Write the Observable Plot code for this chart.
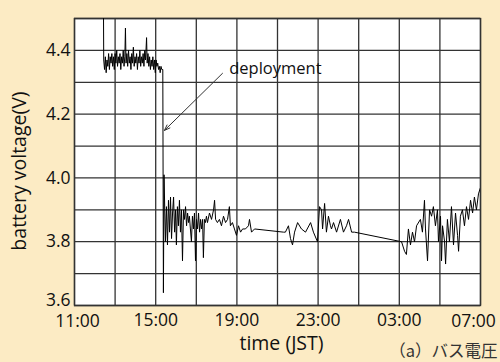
<!DOCTYPE html>
<html>
<head>
<meta charset="utf-8">
<script src="https://cdn.jsdelivr.net/npm/d3@7"></script>
<script src="https://cdn.jsdelivr.net/npm/@observablehq/plot@0.6"></script>
<style>
  html, body { margin: 0; padding: 0; background: #fcebc4; }
  #chart svg { display: block; }
</style>
</head>
<body>
<div id="chart"></div>
<script>
// time in hours since 00:00 of the first day (values > 24 are next day)
const times = [
  12.43, 12.44, 12.48, 12.52, 12.56, 12.60, 12.64, 12.68, 12.72, 12.76, 12.80, 12.84, 12.88, 12.92, 12.96,
  13.00, 13.04, 13.08, 13.12, 13.16, 13.20, 13.24, 13.28, 13.32, 13.36, 13.40, 13.44, 13.48, 13.51, 13.54,
  13.58, 13.62, 13.66, 13.70, 13.74, 13.78, 13.82, 13.86, 13.90, 13.94, 13.98, 14.02, 14.06, 14.10, 14.14,
  14.18, 14.22, 14.26, 14.30, 14.34, 14.38, 14.42, 14.46, 14.50, 14.55, 14.58, 14.62, 14.66, 14.70, 14.74,
  14.78, 14.82, 14.86, 14.90, 14.94, 14.98, 15.02, 15.06, 15.10, 15.14, 15.18, 15.22, 15.26, 15.30, 15.35,
  15.38, 15.41,
  15.48, 15.53, 15.58, 15.63, 15.68, 15.73, 15.78, 15.83, 15.88, 15.93, 15.98, 16.02, 16.07, 16.12, 16.17,
  16.22, 16.27, 16.32, 16.37, 16.42, 16.47, 16.52, 16.57, 16.62, 16.66, 16.71, 16.76, 16.81, 16.86, 16.91,
  16.96, 17.01, 17.06, 17.11, 17.16, 17.21, 17.26, 17.31, 17.35, 17.40, 17.45, 17.50, 17.55, 17.65, 17.75,
  17.85, 17.90, 17.95, 18.04, 18.14, 18.24, 18.34, 18.44, 18.54, 18.63, 18.68, 18.78, 18.88, 18.98, 19.08,
  19.18, 19.28, 19.42, 19.57, 19.62, 19.72, 19.87,
  21.30, 21.39, 21.54, 21.64, 21.74, 21.84, 21.99, 22.18, 22.38, 22.63, 22.77, 22.97, 23.07, 23.17, 23.22,
  23.32, 23.41, 23.51, 23.61, 23.66, 23.76, 23.91, 24.10, 24.25, 24.40, 24.50, 24.65, 24.79,
  27.11, 27.26, 27.35, 27.45, 27.55, 27.65, 27.75, 27.85, 28.04, 28.14, 28.24, 28.29, 28.39, 28.49, 28.59,
  28.68, 28.78, 28.88, 28.93, 29.03, 29.08, 29.13, 29.23, 29.28, 29.37, 29.47, 29.57, 29.67, 29.77, 29.87,
  29.92, 30.01, 30.11, 30.21, 30.31, 30.41, 30.51, 30.61, 30.70, 30.80, 30.90, 31.00
];
const volts = [
  4.50, 4.37, 4.34, 4.38, 4.33, 4.37, 4.35, 4.39, 4.34, 4.38, 4.36, 4.39, 4.35, 4.38, 4.34,
  4.39, 4.36, 4.40, 4.35, 4.38, 4.36, 4.39, 4.34, 4.38, 4.36, 4.40, 4.35, 4.38, 4.47, 4.36,
  4.39, 4.35, 4.40, 4.36, 4.38, 4.34, 4.39, 4.36, 4.41, 4.35, 4.38, 4.36, 4.39, 4.34, 4.38,
  4.36, 4.40, 4.35, 4.38, 4.36, 4.39, 4.35, 4.40, 4.37, 4.44, 4.36, 4.39, 4.35, 4.38, 4.34,
  4.37, 4.35, 4.38, 4.34, 4.37, 4.33, 4.37, 4.35, 4.36, 4.34, 4.35, 4.33, 4.35, 4.34, 4.34,
  3.64, 4.01,
  3.80, 3.91, 3.79, 3.93, 3.83, 3.94, 3.81, 3.89, 3.94, 3.83, 3.90, 3.79, 3.91, 3.85, 3.93,
  3.83, 3.90, 3.74, 3.90, 3.87, 3.91, 3.85, 3.89, 3.86, 3.88, 3.84, 3.80, 3.88, 3.84, 3.89,
  3.74, 3.87, 3.84, 3.89, 3.83, 3.87, 3.84, 3.87, 3.75, 3.87, 3.86, 3.88, 3.86, 3.89, 3.87,
  3.90, 3.93, 3.87, 3.86, 3.87, 3.85, 3.88, 3.86, 3.87, 3.91, 3.85, 3.86, 3.84, 3.82, 3.85,
  3.83, 3.84, 3.84, 3.85, 3.87, 3.83, 3.84,
  3.83, 3.83, 3.85, 3.81, 3.79, 3.83, 3.86, 3.84, 3.83, 3.86, 3.83, 3.80, 3.91, 3.90, 3.84,
  3.92, 3.83, 3.88, 3.85, 3.84, 3.86, 3.83, 3.87, 3.83, 3.85, 3.87, 3.83, 3.83,
  3.80, 3.77, 3.76, 3.84, 3.79, 3.83, 3.80, 3.85, 3.87, 3.83, 3.93, 3.84, 3.74, 3.90, 3.88,
  3.91, 3.85, 3.90, 3.80, 3.88, 3.74, 3.85, 3.80, 3.73, 3.87, 3.80, 3.91, 3.79, 3.89, 3.82,
  3.77, 3.88, 3.90, 3.85, 3.91, 3.87, 3.93, 3.89, 3.94, 3.90, 3.95, 3.97
];

const xTicks = [11, 15, 19, 23, 27, 31];
const xTickLabels = ["11:00", "15:00", "19:00", "23:00", "03:00", "07:00"];
const yTicks = [3.6, 3.8, 4.0, 4.2, 4.4];
const xGrid = [11, 13, 15, 17, 19, 21, 23, 25, 27, 29, 31];
const yGrid = [3.6, 3.7, 3.8, 3.9, 4.0, 4.1, 4.2, 4.3, 4.4, 4.5];

const annotationText = ["deployment"];
const annotationTextPos = [{x: 18.62, y: 4.343}];
const annotationArrow = [{x1: 18.29, y1: 4.328, x2: 15.43, y2: 4.149}];

const yLabel = "battery voltage(V)";
const xLabel = "time (JST)";
const caption = "（a）バス電圧";

const data = times.map((t, i) => ({t, v: volts[i]}));
const labelMap = new Map(xTicks.map((t, i) => [t, xTickLabels[i]]));
const font = "'Open Sans', 'Noto Sans', sans-serif";
const tickFs = 17.5;

const first = xTicks[0], last = xTicks[xTicks.length - 1];
const midX = xTicks.slice(1, -1);
const yMin = yTicks[0];
const yRest = yTicks.slice(1);

const chart = Plot.plot({
  width: 500,
  height: 362,
  marginLeft: 74,
  marginRight: 20,
  marginTop: 18,
  marginBottom: 57,
  style: {background: "transparent", fontFamily: font, fontSize: "17px", color: "#111", overflow: "visible"},
  x: {domain: [11, 31], label: null},
  y: {domain: [3.6, 4.5], label: null},
  marks: [
    Plot.frame({fill: "white", stroke: null}),
    Plot.ruleX(xGrid, {stroke: "#333", strokeWidth: 1.3}),
    Plot.ruleY(yGrid, {stroke: "#333", strokeWidth: 1.3}),
    Plot.frame({stroke: "#333", strokeWidth: 1.4}),
    Plot.line(data, {x: "t", y: "v", stroke: "#000", strokeWidth: 1, clip: true}),
    Plot.arrow(annotationArrow, {x1: "x1", y1: "y1", x2: "x2", y2: "y2", stroke: "#333", strokeWidth: 1, headLength: 9, headAngle: 40}),
    Plot.text(annotationText, {x: annotationTextPos[0].x, y: annotationTextPos[0].y, text: d => d, textAnchor: "start", fontSize: 16.5, fill: "#111"}),
    Plot.text([yLabel], {frameAnchor: "left", dx: -55, dy: 9, rotate: -90, textAnchor: "middle", text: d => d, fontSize: 19.5, fill: "#111"}),
    Plot.text([xLabel], {frameAnchor: "bottom", dx: 4, dy: 38, textAnchor: "middle", lineAnchor: "middle", text: d => d, fontSize: 19.5, fill: "#111"}),
    Plot.text([caption], {frameAnchor: "bottom-right", dx: 17, dy: 51, textAnchor: "end", lineAnchor: "bottom", text: d => d, fontSize: 16.5, fill: "#333", fontFamily: "'Noto Sans CJK JP', sans-serif"}),
    Plot.axisX({ticks: midX, tickFormat: d => labelMap.get(d), tickSize: 0, tickPadding: 8, label: null, fontSize: tickFs}),
    Plot.text([first], {x: d => d, frameAnchor: "bottom", dx: 3, dy: 16, lineAnchor: "middle", text: d => labelMap.get(d), fontSize: tickFs, fill: "#111"}),
    Plot.text([last], {x: d => d, frameAnchor: "bottom", dx: -7, dy: 16, lineAnchor: "middle", text: d => labelMap.get(d), fontSize: tickFs, fill: "#111"}),
    Plot.axisY({ticks: yRest, tickFormat: d => d.toFixed(1), tickSize: 0, tickPadding: 4, label: null, fontSize: tickFs}),
    Plot.text([yMin], {y: d => d, frameAnchor: "left", dx: -4, dy: -5, textAnchor: "end", text: d => d.toFixed(1), fontSize: tickFs, fill: "#111"})
  ]
});
document.getElementById("chart").appendChild(chart);
</script>
</body>
</html>
